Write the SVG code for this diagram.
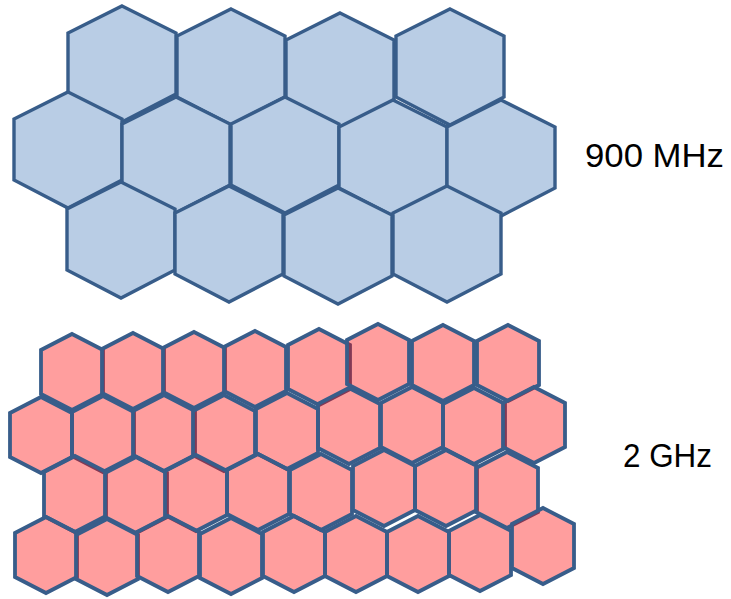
<svg xmlns="http://www.w3.org/2000/svg" xmlns:xlink="http://www.w3.org/1999/xlink" width="731" height="599" viewBox="0 0 731 599">
<style>
.b{fill:#B9CDE5;stroke:#385D8A;stroke-width:3.4;stroke-linejoin:miter}
.p{fill:#FF0000;fill-opacity:0.38;stroke:#385D8A;stroke-width:3.8;stroke-linejoin:miter}
.t{font-family:"Liberation Sans",Arial,sans-serif;font-size:33px;fill:#000}
</style>
<defs>
<polygon id="bh" points="0,0 54,27 54,88 0,116 -54,88 -54,27"/>
<polygon id="ph" points="0,0 31,16 31,60 0,76 -31,60 -31,16"/>
</defs>
<g id="band900">
<g id="b1-1"><use href="#bh" class="b" x="122" y="6"/></g>
<g id="b1-2"><use href="#bh" class="b" x="231" y="9"/></g>
<g id="b1-3"><use href="#bh" class="b" x="340" y="13"/></g>
<g id="b1-4"><use href="#bh" class="b" x="450" y="9"/></g>
<g id="b2-1"><use href="#bh" class="b" x="68" y="92"/></g>
<g id="b2-2"><use href="#bh" class="b" x="176" y="97"/></g>
<g id="b2-3"><use href="#bh" class="b" x="285" y="97"/></g>
<g id="b2-4"><use href="#bh" class="b" x="393" y="100"/></g>
<g id="b2-5"><use href="#bh" class="b" x="501" y="100"/></g>
<g id="b3-1"><use href="#bh" class="b" x="121" y="182"/></g>
<g id="b3-2"><use href="#bh" class="b" x="229" y="186"/></g>
<g id="b3-3"><use href="#bh" class="b" x="338" y="188"/></g>
<g id="b3-4"><use href="#bh" class="b" x="447" y="186"/></g>
</g>
<g id="band2g">
<g id="p1-1"><use href="#ph" class="p" x="72" y="334"/></g>
<g id="p1-2"><use href="#ph" class="p" x="133" y="333"/></g>
<g id="p1-3"><use href="#ph" class="p" x="194" y="332"/></g>
<g id="p1-4"><use href="#ph" class="p" x="255" y="331"/></g>
<g id="p1-5"><use href="#ph" class="p" x="319" y="329"/></g>
<g id="p1-6"><use href="#ph" class="p" x="378" y="324"/></g>
<g id="p1-7"><use href="#ph" class="p" x="443" y="325"/></g>
<g id="p1-8"><use href="#ph" class="p" x="508" y="325"/></g>
<g id="p2-1"><use href="#ph" class="p" x="41" y="397"/></g>
<g id="p2-2"><use href="#ph" class="p" x="103" y="396"/></g>
<g id="p2-3"><use href="#ph" class="p" x="164" y="395"/></g>
<g id="p2-4"><use href="#ph" class="p" x="224" y="395"/></g>
<g id="p2-5"><use href="#ph" class="p" x="287" y="393"/></g>
<g id="p2-6"><use href="#ph" class="p" x="349" y="388"/></g>
<g id="p2-7"><use href="#ph" class="p" x="412" y="387"/></g>
<g id="p2-8"><use href="#ph" class="p" x="474" y="388"/></g>
<g id="p2-9"><use href="#ph" class="p" x="534" y="387"/></g>
<g id="p3-1"><use href="#ph" class="p" x="75" y="456"/></g>
<g id="p3-2"><use href="#ph" class="p" x="136" y="457"/></g>
<g id="p3-3"><use href="#ph" class="p" x="196" y="455"/></g>
<g id="p3-4"><use href="#ph" class="p" x="258" y="454"/></g>
<g id="p3-5"><use href="#ph" class="p" x="321" y="454"/></g>
<g id="p3-6"><use href="#ph" class="p" x="384" y="450"/></g>
<g id="p3-7"><use href="#ph" class="p" x="446" y="450"/></g>
<g id="p3-8"><use href="#ph" class="p" x="507" y="452"/></g>
<g id="p4-1"><use href="#ph" class="p" x="46" y="517"/></g>
<g id="p4-2"><use href="#ph" class="p" x="107" y="519"/></g>
<g id="p4-3"><use href="#ph" class="p" x="168" y="516"/></g>
<g id="p4-4"><use href="#ph" class="p" x="231" y="518"/></g>
<g id="p4-5"><use href="#ph" class="p" x="294" y="516"/></g>
<g id="p4-6"><use href="#ph" class="p" x="356" y="516"/></g>
<g id="p4-7"><use href="#ph" class="p" x="418" y="516"/></g>
<g id="p4-8"><use href="#ph" class="p" x="480" y="515"/></g>
<g id="p4-9"><use href="#ph" class="p" x="543" y="508"/></g>
</g>
<g id="connectors"/>
<g id="labels">
<text class="t" x="585" y="167" textLength="139" lengthAdjust="spacingAndGlyphs">900 MHz</text>
<text class="t" x="623" y="467" textLength="89" lengthAdjust="spacingAndGlyphs">2 GHz</text>
</g>
</svg>
